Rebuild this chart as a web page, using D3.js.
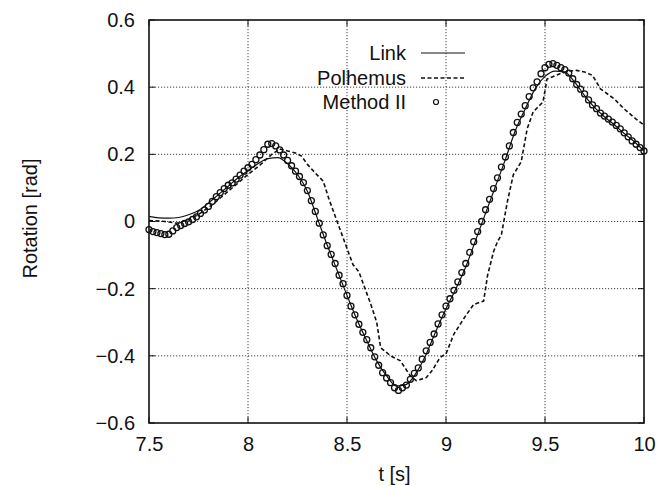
<!DOCTYPE html>
<html>
<head>
<meta charset="utf-8">
<script src="https://cdn.jsdelivr.net/npm/d3@7"></script>
<style>
  html, body { margin: 0; padding: 0; background: #fff; }
  svg { display: block; }
  text { font-family: "Liberation Sans", Arial, Helvetica, sans-serif; fill: #111; }
</style>
</head>
<body>
<div id="chart"></div>
<script>
// ─── Data ────────────────────────────────────────────────────────────────────
const xTicks = [7.5, 8, 8.5, 9, 9.5, 10];
const yTicks = [-0.6, -0.4, -0.2, 0, 0.2, 0.4, 0.6];
const seriesNames = ['Link', 'Polhemus', 'Method II'];

// Link: smooth reference signal
const linkT = [7.50, 7.55, 7.60, 7.65, 7.70, 7.75, 7.80, 7.85, 7.90, 7.95,
               8.00, 8.05, 8.10, 8.15, 8.20, 8.25, 8.30, 8.35, 8.40, 8.45,
               8.50, 8.55, 8.60, 8.65, 8.70, 8.75, 8.80, 8.85, 8.90, 8.95,
               9.00, 9.05, 9.10, 9.15, 9.20, 9.25, 9.30, 9.35, 9.40, 9.45,
               9.50, 9.55, 9.60, 9.65, 9.70, 9.75, 9.80, 9.85, 9.90, 9.95, 10.00];
const linkV = [0.015, 0.011, 0.010, 0.012, 0.020, 0.033, 0.055, 0.080, 0.105, 0.130,
               0.152, 0.172, 0.187, 0.190, 0.172, 0.140, 0.090, 0.010, -0.070, -0.145,
               -0.220, -0.292, -0.355, -0.415, -0.460, -0.490, -0.485, -0.450, -0.395, -0.325,
               -0.260, -0.200, -0.135, -0.055, 0.025, 0.105, 0.185, 0.270, 0.335, 0.395,
               0.432, 0.448, 0.445, 0.415, 0.375, 0.340, 0.312, 0.288, 0.262, 0.238, 0.210];

// Polhemus: lagging, stair-stepped sensor trace
const polT = [7.50, 7.58, 7.64, 7.70, 7.76, 7.82, 7.88, 7.94, 8.00, 8.06,
              8.12, 8.16, 8.20, 8.24, 8.27, 8.30, 8.35, 8.38, 8.41, 8.45,
              8.50, 8.53, 8.56, 8.62, 8.65, 8.67, 8.72, 8.77, 8.82, 8.85,
              8.90, 8.93, 8.97, 9.00, 9.04, 9.10, 9.14, 9.19, 9.21, 9.24,
              9.26, 9.28, 9.31, 9.34, 9.38, 9.41, 9.44, 9.49, 9.51, 9.575,
              9.62, 9.66, 9.70, 9.74, 9.78, 9.85, 9.90, 9.96, 10.00];
const polV = [0.003, 0.000, -0.005, 0.005, 0.025, 0.050, 0.080, 0.110, 0.140, 0.168,
              0.200, 0.216, 0.210, 0.204, 0.195, 0.170, 0.138, 0.120, 0.065, 0.000,
              -0.080, -0.128, -0.150, -0.246, -0.300, -0.376, -0.400, -0.415, -0.460, -0.474,
              -0.465, -0.444, -0.405, -0.394, -0.335, -0.280, -0.247, -0.237, -0.160, -0.090,
              -0.060, -0.039, 0.059, 0.139, 0.178, 0.276, 0.326, 0.356, 0.424, 0.440,
              0.448, 0.450, 0.445, 0.435, 0.395, 0.365, 0.335, 0.305, 0.287];

// Method II: dense estimate samples (every 0.02 s)
const m2Start = 7.5, m2Step = 0.02;
const m2V = [-0.024, -0.030, -0.033, -0.036, -0.039, -0.038, -0.028, -0.018, -0.012, -0.006,
             -0.001, 0.006, 0.014, 0.024, 0.034, 0.045, 0.060, 0.074, 0.086, 0.098,
             0.108, 0.115, 0.126, 0.138, 0.150, 0.160, 0.170, 0.184, 0.198, 0.214,
             0.230, 0.232, 0.225, 0.213, 0.198, 0.182, 0.166, 0.150, 0.134, 0.116,
             0.092, 0.062, 0.030, -0.005, -0.040, -0.072, -0.098, -0.125, -0.160, -0.185,
             -0.220, -0.252, -0.278, -0.306, -0.330, -0.352, -0.376, -0.403, -0.428, -0.450,
             -0.466, -0.480, -0.495, -0.503, -0.495, -0.487, -0.470, -0.452, -0.436, -0.410,
             -0.385, -0.360, -0.335, -0.305, -0.278, -0.252, -0.230, -0.205, -0.180, -0.152,
             -0.125, -0.092, -0.060, -0.030, 0.000, 0.035, 0.066, 0.098, 0.130, 0.162,
             0.192, 0.225, 0.265, 0.295, 0.320, 0.345, 0.372, 0.398, 0.416, 0.440,
             0.458, 0.468, 0.470, 0.465, 0.458, 0.452, 0.442, 0.425, 0.408, 0.394,
             0.380, 0.362, 0.347, 0.336, 0.323, 0.314, 0.305, 0.296, 0.286, 0.276,
             0.264, 0.252, 0.240, 0.230, 0.220, 0.210];

// ─── Layout ──────────────────────────────────────────────────────────────────
const W = 672, H = 486;
const margin = { top: 20, right: 28, bottom: 63, left: 149 };
const innerW = W - margin.left - margin.right;
const innerH = H - margin.top - margin.bottom;

const svg = d3.select('#chart').append('svg')
    .attr('width', W)
    .attr('height', H);

const g = svg.append('g')
    .attr('transform', `translate(${margin.left},${margin.top})`);

const x = d3.scaleLinear().domain([7.5, 10]).range([0, innerW]);
const y = d3.scaleLinear().domain([-0.6, 0.6]).range([innerH, 0]);

// ─── Grid (dotted, gnuplot style) ────────────────────────────────────────────
g.append('g')
    .selectAll('line')
    .data(xTicks.slice(1, -1))
    .enter().append('line')
    .attr('x1', d => x(d)).attr('x2', d => x(d))
    .attr('y1', 0).attr('y2', innerH)
    .attr('stroke', '#444')
    .attr('stroke-width', 1)
    .attr('stroke-dasharray', '1.2,1.8');

g.append('g')
    .selectAll('line')
    .data(yTicks.slice(1, -1))
    .enter().append('line')
    .attr('x1', 0).attr('x2', innerW)
    .attr('y1', d => y(d)).attr('y2', d => y(d))
    .attr('stroke', '#444')
    .attr('stroke-width', 1)
    .attr('stroke-dasharray', '1.2,1.8');

// ─── Axes (labels only, frame drawn separately) ──────────────────────────────
const xAxis = g.append('g')
    .attr('transform', `translate(0,${innerH})`)
    .call(d3.axisBottom(x).tickValues(xTicks).tickSize(0).tickPadding(14)
        .tickFormat(d3.format('')));
xAxis.select('.domain').remove();
xAxis.selectAll('text')
    .style('font-size', '20px')
    .style('fill', '#111');

const yAxis = g.append('g')
    .call(d3.axisLeft(y).tickValues(yTicks).tickSize(0).tickPadding(14)
        .tickFormat(d => d === 0 ? '0' : d3.format('.1f')(d)));
yAxis.select('.domain').remove();
yAxis.selectAll('text')
    .style('font-size', '20px')
    .style('fill', '#111');

// small inward tick marks on all four sides
xTicks.forEach(t => {
    g.append('line').attr('x1', x(t)).attr('x2', x(t)).attr('y1', innerH).attr('y2', innerH - 6)
        .attr('stroke', '#111').attr('stroke-width', 1);
    g.append('line').attr('x1', x(t)).attr('x2', x(t)).attr('y1', 0).attr('y2', 6)
        .attr('stroke', '#111').attr('stroke-width', 1);
});
yTicks.forEach(v => {
    g.append('line').attr('x1', 0).attr('x2', 6).attr('y1', y(v)).attr('y2', y(v))
        .attr('stroke', '#111').attr('stroke-width', 1);
    g.append('line').attr('x1', innerW).attr('x2', innerW - 6).attr('y1', y(v)).attr('y2', y(v))
        .attr('stroke', '#111').attr('stroke-width', 1);
});

// Frame
g.append('rect')
    .attr('x', 0).attr('y', 0)
    .attr('width', innerW).attr('height', innerH)
    .attr('fill', 'none')
    .attr('stroke', '#111')
    .attr('stroke-width', 1.6);

// Axis titles
svg.append('text')
    .attr('x', margin.left + x(8.75) - 2)
    .attr('y', H - 5)
    .attr('text-anchor', 'middle')
    .style('font-size', '20px')
    .text('t [s]');

svg.append('text')
    .attr('transform', `translate(37,${margin.top + innerH / 2 - 3}) rotate(-90)`)
    .attr('text-anchor', 'middle')
    .style('font-size', '20px')
    .text('Rotation [rad]');

// ─── Series ──────────────────────────────────────────────────────────────────
const line = d3.line()
    .x(d => x(d[0]))
    .y(d => y(d[1]));

const linkData = linkT.map((t, i) => [t, linkV[i]]);
const polData = polT.map((t, i) => [t, polV[i]]);
const m2Data = m2V.map((v, i) => [m2Start + i * m2Step, v]);

const plot = g.append('g');

plot.append('path')
    .datum(polData)
    .attr('d', line)
    .attr('fill', 'none')
    .attr('stroke', '#111')
    .attr('stroke-width', 1.6)
    .attr('stroke-dasharray', '4,2.5');

plot.append('path')
    .datum(linkData)
    .attr('d', line.curve(d3.curveMonotoneX))
    .attr('fill', 'none')
    .attr('stroke', '#111')
    .attr('stroke-width', 1.2);

plot.selectAll('.m2')
    .data(m2Data)
    .enter().append('circle')
    .attr('class', 'm2')
    .attr('cx', d => x(d[0]))
    .attr('cy', d => y(d[1]))
    .attr('r', 3)
    .attr('fill', 'none')
    .attr('stroke', '#111')
    .attr('stroke-width', 1.3);

// ─── Legend (no box, right-aligned labels) ───────────────────────────────────
const legendX = 406, sampleX1 = 421, sampleX2 = 465;
const legendY = [53, 78, 102];

seriesNames.forEach((name, i) => {
    svg.append('text')
        .attr('x', legendX)
        .attr('y', legendY[i])
        .attr('dy', '0.35em')
        .attr('text-anchor', 'end')
        .style('font-size', '20px')
        .text(name);
});

svg.append('line')
    .attr('x1', sampleX1).attr('x2', sampleX2)
    .attr('y1', legendY[0]).attr('y2', legendY[0])
    .attr('stroke', '#111').attr('stroke-width', 1.2);

svg.append('line')
    .attr('x1', sampleX1).attr('x2', sampleX2)
    .attr('y1', legendY[1]).attr('y2', legendY[1])
    .attr('stroke', '#111').attr('stroke-width', 1.6)
    .attr('stroke-dasharray', '4,2.5');

svg.append('circle')
    .attr('cx', (sampleX1 + sampleX2) / 2 - 7)
    .attr('cy', legendY[2])
    .attr('r', 2.5)
    .attr('fill', 'none')
    .attr('stroke', '#111')
    .attr('stroke-width', 1.2);
</script>
</body>
</html>
